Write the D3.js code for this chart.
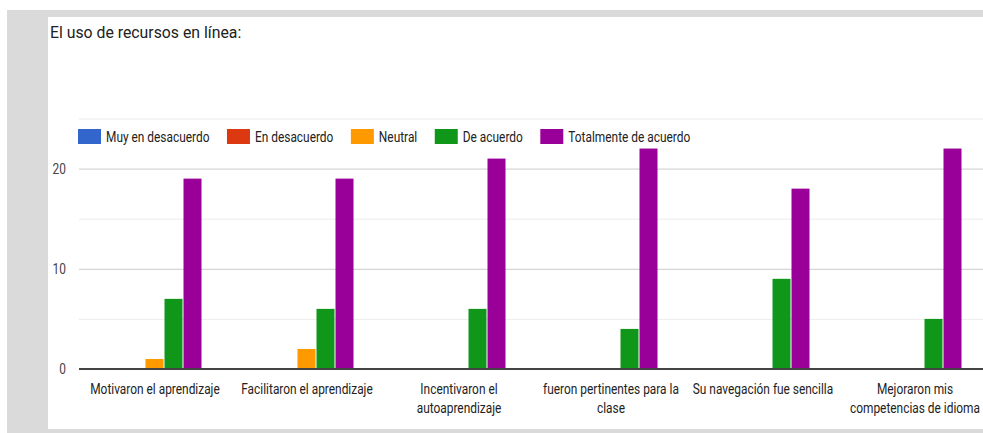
<!DOCTYPE html>
<html>
<head>
<meta charset="utf-8">
<script src="https://cdn.jsdelivr.net/npm/d3@7"></script>
<style>
	body { margin: 0; background: #fff; }
	svg { display: block; font-family: Roboto, "Noto Sans", sans-serif; }
</style>
</head>
<body>
<div id="main"></div>
<script>
// ===========================Data=======================
const categories = [
	'Motivaron el aprendizaje',
	'Facilitaron el aprendizaje',
	'Incentivaron el autoaprendizaje',
	'fueron pertinentes para la clase',
	'Su navegación fue sencilla',
	'Mejoraron mis competencias de idioma'
];
const seriesNames = ['Muy en desacuerdo', 'En desacuerdo', 'Neutral', 'De acuerdo', 'Totalmente de acuerdo'];
const muyDesacuerdo = [0, 0, 0, 0, 0, 0];
const enDesacuerdo = [0, 0, 0, 0, 0, 0];
const neutral = [1, 2, 0, 0, 0, 0];
const deAcuerdo = [7, 6, 6, 4, 9, 5];
const totalmente = [19, 19, 21, 22, 18, 22];
const yTicks = [0, 10, 20];
const yMinorTicks = [5, 15, 25];

// ===========================Style=======================
const colors = ['#3366cc', '#dc3912', '#ff9900', '#109618', '#990099'];
const size = {"width": 983, "height": 433};
const squeeze = 0.85; // text in the picture is horizontally narrowed
const plot = {left: 79, right: 991, top: 118.5, bottom: 369};

var series = [muyDesacuerdo, enDesacuerdo, neutral, deAcuerdo, totalmente];

// ======================svg container===================
const svg = d3.select('#main').append('svg')
	.attr('width', size.width)
	.attr('height', size.height);

// gray frame around the card
var frame = svg.append('g').attr('fill', '#dadada');
frame.append('rect').attr('x', 7).attr('y', 10).attr('width', size.width - 7).attr('height', 7);
frame.append('rect').attr('x', 7).attr('y', 10).attr('width', 41).attr('height', size.height - 10);
frame.append('rect').attr('x', 7).attr('y', 429).attr('width', size.width - 7).attr('height', 4);

// place a squeezed text
function squeezed(sel, x, y, s){
	return sel.attr('transform', 'translate(' + x + ',' + y + ') scale(' + (s || squeeze) + ',1)');
}

squeezed(svg.append('text'), 50, 37.5, 0.93)
	.attr('font-size', 17)
	.attr('fill', '#212121')
	.text('El uso de recursos en línea:');

// ======================scales===================
var x0 = d3.scaleBand()
	.domain(categories)
	.range([plot.left, plot.right])
	.paddingInner(0.375)
	.paddingOuter(0.1875);

var x1 = d3.scaleBand()
	.domain(d3.range(seriesNames.length))
	.range([0, x0.bandwidth()]);

var y = d3.scaleLinear()
	.domain([0, 25])
	.range([plot.bottom, plot.top]);

// gridlines
svg.append('g').selectAll('line.minor')
	.data(yMinorTicks).enter().append('line')
	.attr('x1', plot.left).attr('x2', size.width)
	.attr('y1', d => y(d) + 0.5).attr('y2', d => y(d) + 0.5)
	.attr('stroke', '#ebebeb');

svg.append('g').selectAll('line.major')
	.data(yTicks.filter(d => d > 0)).enter().append('line')
	.attr('x1', plot.left).attr('x2', size.width)
	.attr('y1', d => y(d) + 0.5).attr('y2', d => y(d) + 0.5)
	.attr('stroke', '#cccccc');

// y axis labels
svg.append('g').selectAll('text')
	.data(yTicks).enter().append('text')
	.each(function(d){ squeezed(d3.select(this), 66, y(d) + 5); })
	.attr('text-anchor', 'end')
	.attr('font-size', 14)
	.attr('fill', '#444')
	.text(d => d);

// ======================bars===================
var groups = svg.append('g').selectAll('g')
	.data(categories).enter().append('g')
	.attr('transform', d => 'translate(' + x0(d) + ',0)');

groups.selectAll('rect')
	.data((d, i) => series.map((s, k) => ({k: k, v: s[i]})).filter(e => e.v > 0))
	.enter().append('rect')
	.attr('x', d => x1(d.k))
	.attr('width', x1.bandwidth() - 1)
	.attr('y', d => y(d.v))
	.attr('height', d => y(0) - y(d.v))
	.attr('fill', d => colors[d.k]);

// baseline
svg.append('line')
	.attr('x1', plot.left).attr('x2', size.width)
	.attr('y1', plot.bottom).attr('y2', plot.bottom)
	.attr('stroke', '#444')
	.attr('stroke-width', 2);

// category labels, wrapped to the group width
var maxWidth = 148;
svg.append('g').selectAll('text')
	.data(categories).enter().append('text')
	.attr('text-anchor', 'middle')
	.attr('font-size', 14)
	.attr('fill', '#222')
	.each(function(d){
		var t = d3.select(this);
		squeezed(t, x0(d) + x0.bandwidth() / 2, plot.bottom + 24.5);
		var words = d.split(' ');
		var line = [];
		var lines = [];
		var probe = t.append('tspan');
		words.forEach(function(w){
			probe.text(line.concat(w).join(' '));
			if(line.length && probe.node().getComputedTextLength() * squeeze > maxWidth){
				lines.push(line.join(' '));
				line = [w];
			}else{
				line.push(w);
			}
		});
		lines.push(line.join(' '));
		probe.remove();
		lines.forEach(function(l, i){
			t.append('tspan').attr('x', 0).attr('dy', i ? 20 : 0).text(l);
		});
	});

// ======================legend===================
var lx = 78;
seriesNames.forEach(function(name, k){
	svg.append('rect')
		.attr('x', lx).attr('y', 129)
		.attr('width', 23).attr('height', 15)
		.attr('fill', colors[k]);
	var t = squeezed(svg.append('text'), lx + 28, 141.5)
		.attr('font-size', 14)
		.attr('fill', '#222')
		.text(name);
	lx += 28 + t.node().getComputedTextLength() * squeeze + 17.5;
});
</script>
</body>
</html>
